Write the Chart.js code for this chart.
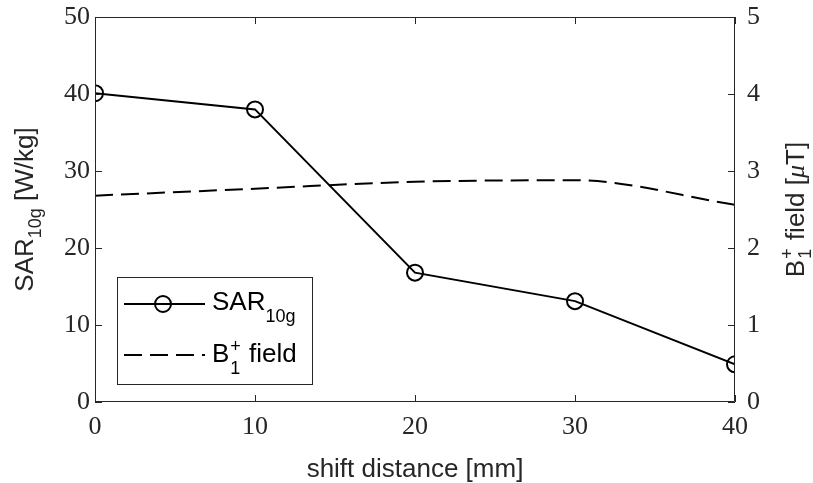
<!DOCTYPE html>
<html>
<head>
<meta charset="utf-8">
<script src="https://cdn.jsdelivr.net/npm/chart.js@4/dist/chart.umd.min.js"></script>
<style>
  html, body { margin: 0; padding: 0; background: #ffffff; }
  canvas { display: block; }
</style>
</head>
<body>
<canvas id="chart" width="813" height="483"></canvas>
<script>
// Shift distance of the coil [mm]
const shiftDistance = [0, 10, 20, 30, 40];
// Peak 10 g averaged SAR [W/kg]
const sar10g = [40.1, 38.0, 16.8, 13.1, 4.9];
// B1+ field [uT]
const b1Field = [2.68, 2.77, 2.86, 2.88, 2.56];

// Tick values of the three axes
const xTicks = [0, 10, 20, 30, 40];
const sarTicks = [0, 10, 20, 30, 40, 50];
const b1Ticks = [0, 1, 2, 3, 4, 5];

// Rich labels: plain runs, lowered runs (subscript) and stacked sup/sub pairs
const xTitle = [{ t: 'shift distance [mm]' }];
const sarTitle = [{ t: 'SAR' }, { t: '10g', low: true }, { t: ' [W/kg]' }];
const b1Title = [{ t: 'B' }, { hi: '+', lo: '1' }, { t: ' field [' }, { t: '\u03bc', italic: true }, { t: 'T]' }];
const sarLegend = [{ t: 'SAR' }, { t: '10g', low: true }];
const b1Legend = [{ t: 'B' }, { hi: '+', lo: '1' }, { t: ' field' }];

const SANS = '"Liberation Sans", Arial, Helvetica, sans-serif';
const SERIF = '"Liberation Serif", "DejaVu Serif", serif';
const AXIS = '#262626';
const BASE = 26, SCRIPT = 18;

function fontFor(part, script) {
  const size = script ? SCRIPT : BASE;
  return part.italic ? 'italic ' + size + 'px ' + SERIF : size + 'px ' + SANS;
}

function partWidth(ctx, p) {
  if (p.hi !== undefined) {
    ctx.font = fontFor({}, true);
    return Math.max(ctx.measureText(p.hi).width, ctx.measureText(p.lo).width) + 2;
  }
  ctx.font = fontFor(p, p.low);
  return ctx.measureText(p.t).width;
}

// draws a run of text parts; dy = {low, hi} baseline shifts of the scripts
function drawRich(ctx, parts, x, y, align, dy) {
  const total = parts.reduce((s, p) => s + partWidth(ctx, p), 0);
  let cx = align === 'center' ? x - total / 2 : x;
  ctx.textAlign = 'left';
  ctx.textBaseline = 'alphabetic';
  for (const p of parts) {
    const w = partWidth(ctx, p);
    if (p.hi !== undefined) {
      ctx.font = fontFor({}, true);
      ctx.fillText(p.hi, cx + 1, y + dy.hi);
      ctx.fillText(p.lo, cx + 1, y + dy.low);
    } else {
      ctx.font = fontFor(p, p.low);
      ctx.fillText(p.t, cx, y + (p.low ? dy.low : 0));
    }
    cx += w;
  }
}

function drawRotated(ctx, parts, x, y, dy) {
  ctx.save();
  ctx.translate(x, y);
  ctx.rotate(-Math.PI / 2);
  drawRich(ctx, parts, 0, 0, 'center', dy);
  ctx.restore();
}

// Box around the plot, inward tick marks, axis titles and the legend
const decorations = {
  id: 'decorations',
  afterDatasetsDraw(chart) {
    const { ctx, chartArea: a, scales } = chart;
    const L = 7;
    ctx.save();
    ctx.strokeStyle = AXIS;
    ctx.lineWidth = 1;
    ctx.beginPath();
    ctx.rect(Math.round(a.left) + 0.5, Math.round(a.top) + 0.5,
             Math.round(a.right - a.left) - 1, Math.round(a.bottom - a.top) - 1);
    xTicks.forEach(v => {
      const px = Math.round(scales.x.getPixelForValue(v)) + 0.5;
      ctx.moveTo(px, a.bottom); ctx.lineTo(px, a.bottom - L);
      ctx.moveTo(px, a.top); ctx.lineTo(px, a.top + L);
    });
    sarTicks.forEach(v => {
      const py = Math.round(scales.y.getPixelForValue(v)) + 0.5;
      ctx.moveTo(a.left, py); ctx.lineTo(a.left + L, py);
    });
    b1Ticks.forEach(v => {
      const py = Math.round(scales.y1.getPixelForValue(v)) + 0.5;
      ctx.moveTo(a.right, py); ctx.lineTo(a.right - L, py);
    });
    ctx.stroke();
    ctx.restore();
  },
  afterDraw(chart) {
    const { ctx, chartArea: a } = chart;
    const midY = (a.top + a.bottom) / 2;
    ctx.save();
    ctx.fillStyle = AXIS;
    drawRich(ctx, xTitle, (a.left + a.right) / 2, 477, 'center', { low: 8, hi: -10 });
    drawRotated(ctx, sarTitle, 33, midY, { low: 8, hi: -10 });
    drawRotated(ctx, b1Title, 804, midY, { low: 7, hi: -11 });

    // legend
    const bx = a.left + 22, by = a.top + 260, bw = 195, bh = 107;
    ctx.fillStyle = '#ffffff';
    ctx.fillRect(bx, by, bw, bh);
    ctx.strokeStyle = AXIS;
    ctx.lineWidth = 1;
    ctx.strokeRect(bx + 0.5, by + 0.5, bw, bh);

    const ds = chart.data.datasets;
    const x0 = bx + 7, x1 = bx + 88, xm = bx + 46;
    const y0 = by + 27, y1 = by + 78;

    ctx.strokeStyle = ds[0].borderColor;
    ctx.lineWidth = ds[0].borderWidth;
    ctx.beginPath();
    ctx.moveTo(x0, y0); ctx.lineTo(x1, y0);
    ctx.stroke();
    ctx.beginPath();
    ctx.arc(xm, y0, ds[0].pointRadius, 0, Math.PI * 2);
    ctx.lineWidth = ds[0].pointBorderWidth;
    ctx.stroke();

    ctx.strokeStyle = ds[1].borderColor;
    ctx.lineWidth = ds[1].borderWidth;
    ctx.setLineDash(ds[1].borderDash);
    ctx.beginPath();
    ctx.moveTo(x0, y1); ctx.lineTo(x1, y1);
    ctx.stroke();
    ctx.setLineDash([]);

    ctx.fillStyle = '#000000';
    drawRich(ctx, sarLegend, bx + 95, y0 + 6, 'left', { low: 12, hi: -10 });
    drawRich(ctx, b1Legend, bx + 95, y1 + 7, 'left', { low: 12, hi: -10 });
    ctx.restore();
  }
};

const tickFont = { family: SERIF, size: 26 };
const noPad = s => { s.paddingTop = 0; s.paddingBottom = 0; s.paddingLeft = 0; s.paddingRight = 0; };

new Chart(document.getElementById('chart'), {
  type: 'line',
  data: {
    datasets: [
      {
        label: 'SAR10g',
        data: shiftDistance.map((x, i) => ({ x, y: sar10g[i] })),
        yAxisID: 'y',
        borderColor: '#000000',
        borderWidth: 2,
        pointStyle: 'circle',
        pointRadius: 8,
        pointBorderWidth: 2,
        pointBorderColor: '#000000',
        pointBackgroundColor: 'rgba(0,0,0,0)',
        tension: 0
      },
      {
        label: 'B1+ field',
        data: shiftDistance.map((x, i) => ({ x, y: b1Field[i] })),
        yAxisID: 'y1',
        borderColor: '#000000',
        borderWidth: 2,
        borderDash: [18, 8],
        pointRadius: 0,
        cubicInterpolationMode: 'monotone'
      }
    ]
  },
  options: {
    responsive: false,
    devicePixelRatio: 1,
    animation: false,
    layout: { padding: { top: 17, left: 0, right: 0, bottom: 0 } },
    plugins: { legend: { display: false }, tooltip: { enabled: false } },
    scales: {
      x: {
        type: 'linear', min: 0, max: 40,
        afterBuildTicks: s => { s.ticks = xTicks.map(v => ({ value: v })); },
        ticks: { font: tickFont, color: AXIS, padding: 10, maxRotation: 0, autoSkip: false },
        grid: { display: false, drawTicks: false },
        border: { display: false },
        afterFit: s => { s.height = 81; noPad(s); }
      },
      y: {
        type: 'linear', position: 'left', min: 0, max: 50,
        afterBuildTicks: s => { s.ticks = sarTicks.map(v => ({ value: v })); },
        ticks: { font: tickFont, color: AXIS, padding: 5, autoSkip: false },
        grid: { display: false, drawTicks: false },
        border: { display: false },
        afterFit: s => { s.width = 95; noPad(s); }
      },
      y1: {
        type: 'linear', position: 'right', min: 0, max: 5,
        afterBuildTicks: s => { s.ticks = b1Ticks.map(v => ({ value: v })); },
        ticks: { font: tickFont, color: AXIS, padding: 12, autoSkip: false },
        grid: { display: false, drawTicks: false },
        border: { display: false },
        afterFit: s => { s.width = 78; noPad(s); }
      }
    }
  },
  plugins: [decorations]
});
</script>
</body>
</html>
